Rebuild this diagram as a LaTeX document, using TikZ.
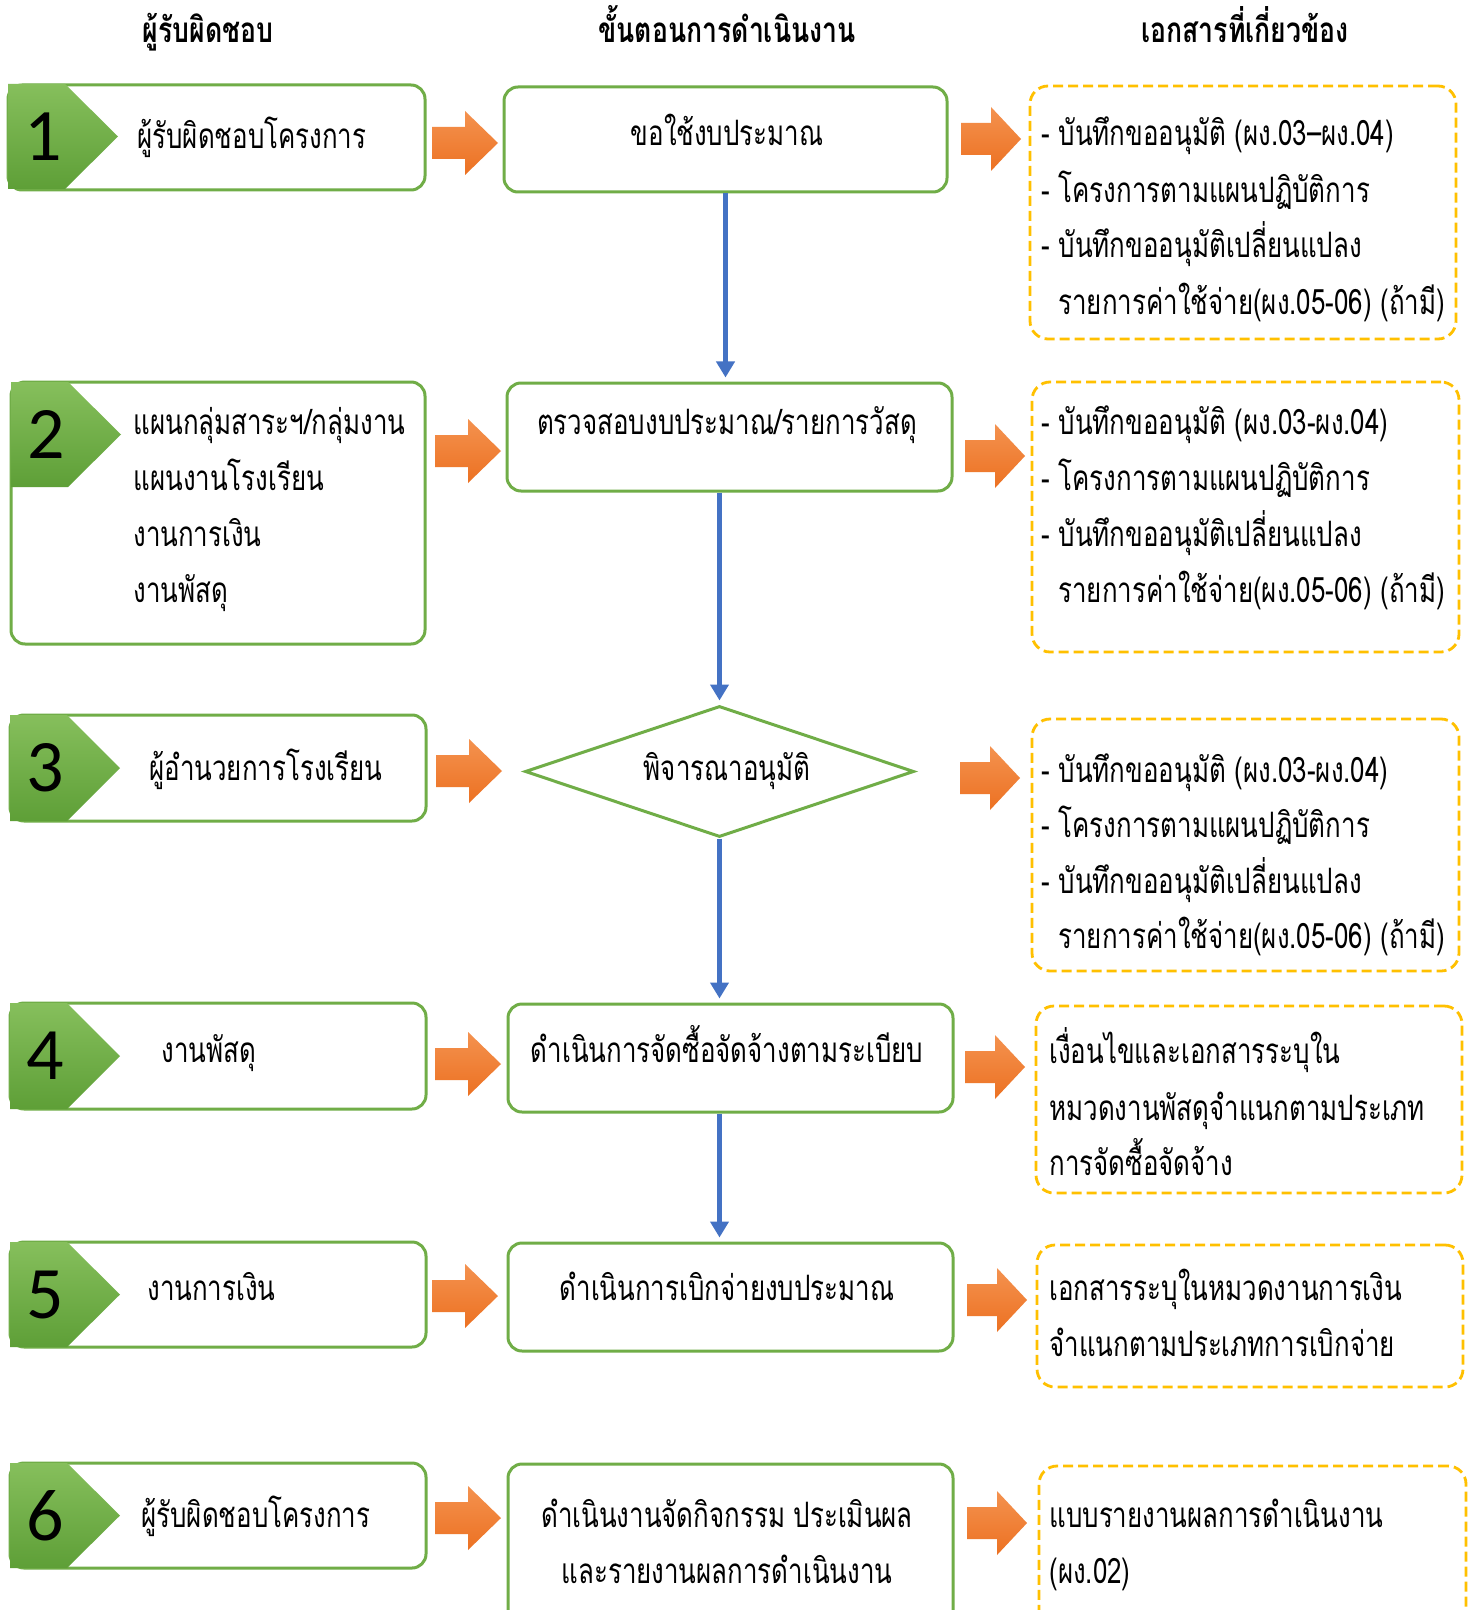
\documentclass[tikz,border=0pt]{standalone}
\usepackage{fontspec}
\newfontfamily\thai[Script=Thai,FakeStretch=0.74]{Loma}
\newfontfamily\thaih[Script=Thai,FakeStretch=0.76]{Loma}
\newfontfamily\numfont{Carlito}
\usetikzlibrary{shapes.geometric,arrows.meta,fit}
\definecolor{gline}{HTML}{70AD47}
\definecolor{gtop}{HTML}{86BF5C}
\definecolor{gbot}{HTML}{5E9F37}
\definecolor{otop}{HTML}{F4924F}
\definecolor{obot}{HTML}{EC7122}
\definecolor{bl}{HTML}{4472C4}
\definecolor{yd}{HTML}{FFC000}
\tikzset{
  gbox/.style={draw=gline, line width=1.5pt, rounded corners=7pt, inner sep=0pt},
  dbox/.style={draw=yd, line width=1.4pt, rounded corners=9pt, dash pattern=on 5pt off 2.5pt, inner sep=0pt},
  ttxt/.style={font=\thai\fontsize{17.5}{17.5}\selectfont, inner sep=0pt, text height=12pt, text depth=0pt},
  ltxt/.style={ttxt, anchor=west},
  hdr/.style={font=\thaih\bfseries\fontsize{17.5}{17.5}\selectfont, inner sep=0pt, text height=12pt, text depth=0pt},
  numtxt/.style={font=\numfont\fontsize{37}{37}\selectfont, inner sep=0pt},
  flow/.style={draw=bl, line width=2.5pt, -{Triangle[length=8pt,width=9pt]}, shorten >=2pt}
}
\newcommand\badge[5]{%
  \shade[top color=gtop,bottom color=gbot] (#1,#2) -- ({#1+57},#2) -- ({#1+110},{(#2+#3)/2}) -- ({#1+57},#3) -- (#1,#3) -- cycle;
  \node[numtxt] (#5) at ({#1+35},{(#2+#3)/2}) {#4};}
\newcommand\oarr[4]{%
  \shade[top color=otop,bottom color=obot] (#1,{#2-16}) -- ({#1+#3-#4},{#2-16}) -- ({#1+#3-#4},{#2-32}) -- ({#1+#3},#2) -- ({#1+#3-#4},{#2+32}) -- ({#1+#3-#4},{#2+16}) -- (#1,{#2+16}) -- cycle;}
\begin{document}
\begin{tikzpicture}[x=0.5pt,y=-0.5pt]
\clip (0,0) rectangle (1473,1610);
\fill[white] (0,0) rectangle (1473,1610);

% headers
\node[hdr] (h1) at (208,31) {ผู้รับผิดชอบ};
\node[hdr] (h2) at (727,31) {ขั้นตอนการดำเนินงาน};
\node[hdr] (h3) at (1245,31) {เอกสารที่เกี่ยวข้อง};

% left column boxes
\node[gbox, fit={(8,85) (425,190)}] (l1) {};
\node[gbox, fit={(11,382) (425,644)}] (l2) {};
\node[gbox, fit={(10,715) (426,821)}] (l3) {};
\node[gbox, fit={(10,1003) (426,1109)}] (l4) {};
\node[gbox, fit={(10,1242) (426,1347)}] (l5) {};
\node[gbox, fit={(10,1463) (426,1568)}] (l6) {};

\badge{8}{84}{189}{1}{n1}
\badge{11}{382}{487}{2}{n2}
\badge{10}{715}{821}{3}{n3}
\badge{10}{1003}{1109}{4}{n4}
\badge{10}{1242}{1347}{5}{n5}
\badge{10}{1463}{1568}{6}{n6}

\node[ltxt] (l1t) at (137,137) {ผู้รับผิดชอบโครงการ};
\node[ltxt] (l2a) at (133,422) {แผนกลุ่มสาระฯ/กลุ่มงาน};
\node[ltxt] (l2b) at (133,478) {แผนงานโรงเรียน};
\node[ltxt] (l2c) at (133,534) {งานการเงิน};
\node[ltxt] (l2d) at (133,590) {งานพัสดุ};
\node[ltxt] (l3t) at (149,768) {ผู้อำนวยการโรงเรียน};
\node[ltxt] (l4t) at (161,1050) {งานพัสดุ};
\node[ltxt] (l5t) at (147,1288) {งานการเงิน};
\node[ltxt] (l6t) at (141,1515) {ผู้รับผิดชอบโครงการ};

% middle column
\node[gbox, fit={(504,87) (947,192)}] (m1) {};
\node[gbox, fit={(507,383) (952,491)}] (m2) {};
\node[diamond, draw=gline, line width=1.5pt, inner sep=0pt, minimum width=194.5pt, minimum height=65.5pt] (d3) at (719.5,771.5) {};
\node[gbox, fit={(508,1004) (953,1112)}] (m4) {};
\node[gbox, fit={(508,1243) (953,1351)}] (m5) {};
\node[gbox, fit={(508,1464) (953,1640)}] (m6) {};

\node[ttxt] (m1t) at (727,134) {ขอใช้งบประมาณ};
\node[ttxt] (m2t) at (727,422) {ตรวจสอบงบประมาณ/รายการวัสดุ};
\node[ttxt] (d3t) at (727,768) {พิจารณาอนุมัติ};
\node[ttxt] (m4t) at (727,1050) {ดำเนินการจัดซื้อจัดจ้างตามระเบียบ};
\node[ttxt] (m5t) at (727,1288) {ดำเนินการเบิกจ่ายงบประมาณ};
\node[ttxt] (m6a) at (727,1515) {ดำเนินงานจัดกิจกรรม ประเมินผล};
\node[ttxt] (m6b) at (727,1571) {และรายงานผลการดำเนินงาน};

% right column
\node[dbox, fit={(1030,86) (1456,339)}] (r1) {};
\node[dbox, fit={(1032,382) (1459,652)}] (r2) {};
\node[dbox, fit={(1032,719) (1459,971)}] (r3) {};
\node[dbox, fit={(1036,1006) (1462,1193)}] (r4) {};
\node[dbox, fit={(1037,1245) (1463,1387)}] (r5) {};
\node[dbox, fit={(1039,1466) (1466,1640)}] (r6) {};

\node[ltxt] (r1a) at (1041,134) {- บันทึกขออนุมัติ (ผง.03–ผง.04)};
\node[ltxt] (r1b) at (1041,191) {- โครงการตามแผนปฏิบัติการ};
\node[ltxt] (r1c) at (1041,246) {- บันทึกขออนุมัติเปลี่ยนแปลง};
\node[ltxt] (r1d) at (1058,303) {รายการค่าใช้จ่าย(ผง.05-06) (ถ้ามี)};
\node[ltxt] (r2a) at (1041,422) {- บันทึกขออนุมัติ (ผง.03-ผง.04)};
\node[ltxt] (r2b) at (1041,478) {- โครงการตามแผนปฏิบัติการ};
\node[ltxt] (r2c) at (1041,534) {- บันทึกขออนุมัติเปลี่ยนแปลง};
\node[ltxt] (r2d) at (1058,590) {รายการค่าใช้จ่าย(ผง.05-06) (ถ้ามี)};
\node[ltxt] (r3a) at (1041,770) {- บันทึกขออนุมัติ (ผง.03-ผง.04)};
\node[ltxt] (r3b) at (1041,825) {- โครงการตามแผนปฏิบัติการ};
\node[ltxt] (r3c) at (1041,881) {- บันทึกขออนุมัติเปลี่ยนแปลง};
\node[ltxt] (r3d) at (1058,936) {รายการค่าใช้จ่าย(ผง.05-06) (ถ้ามี)};
\node[ltxt] (r4a) at (1049,1051) {เงื่อนไขและเอกสารระบุใน};
\node[ltxt] (r4b) at (1049,1108) {หมวดงานพัสดุจำแนกตามประเภท};
\node[ltxt] (r4c) at (1049,1163) {การจัดซื้อจัดจ้าง};
\node[ltxt] (r5a) at (1049,1288) {เอกสารระบุในหมวดงานการเงิน};
\node[ltxt] (r5b) at (1049,1344) {จำแนกตามประเภทการเบิกจ่าย};
\node[ltxt] (r6a) at (1049,1515) {แบบรายงานผลการดำเนินงาน};
\node[ltxt] (r6b) at (1049,1571) {(ผง.02)};

% orange block arrows
\oarr{432}{143}{66}{33}
\oarr{961}{139}{60}{30}
\oarr{435}{451}{66}{33}
\oarr{965}{456}{60}{30}
\oarr{436}{771}{66}{33}
\oarr{960}{778}{60}{30}
\oarr{435}{1064}{66}{33}
\oarr{965}{1067}{60}{30}
\oarr{432}{1296}{66}{33}
\oarr{967}{1300}{60}{30}
\oarr{435}{1518}{66}{33}
\oarr{967}{1523}{60}{30}

% blue flow arrows
\draw[flow] (m1.south) -- (m1.south |- m2.north);
\draw[flow] (d3.north |- m2.south) -- (d3.north);
\draw[flow] (d3.south) -- (d3.south |- m4.north);
\draw[flow] (m4.south -| d3.south) -- (m5.north -| d3.south);
\end{tikzpicture}
\end{document}
